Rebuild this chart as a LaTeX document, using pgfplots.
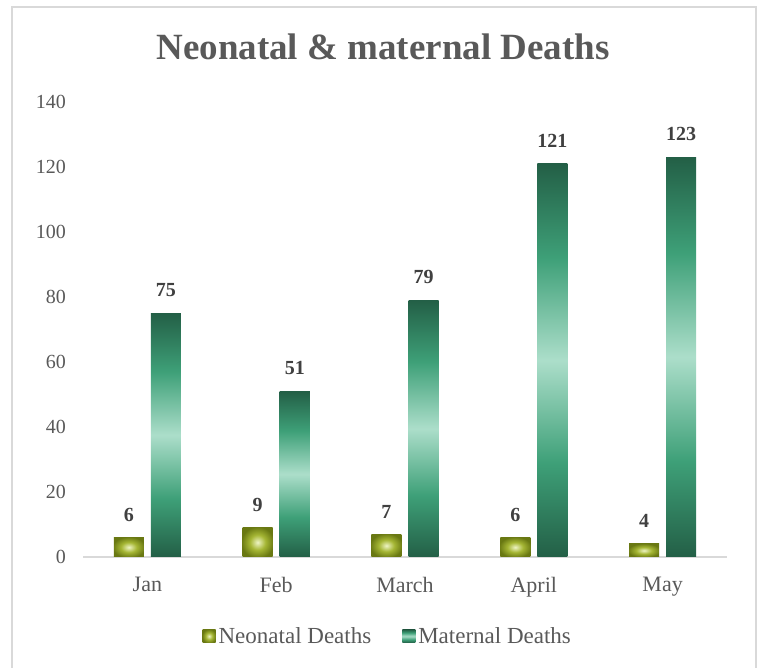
\documentclass[border=0pt]{standalone}
\usepackage{pgfplots}
\pgfplotsset{compat=1.18}
\usepackage{fontspec}
\setmainfont{Liberation Serif}

\definecolor{txtgray}{HTML}{595959}
\definecolor{lblgray}{HTML}{404040}
\definecolor{framegray}{HTML}{D9D9D9}
\definecolor{neodark}{RGB}{105,120,18}
\definecolor{neomid}{RGB}{165,182,52}
\definecolor{neolight}{RGB}{238,244,196}
\definecolor{matdark}{RGB}{35,95,70}
\definecolor{matmid}{RGB}{62,160,120}
\definecolor{matlight}{RGB}{172,222,202}

% olive bars: light centre, dark rim
\pgfdeclareradialshading{neoshade}{\pgfpoint{0bp}{0bp}}{%
  color(0bp)=(neolight); color(13bp)=(neomid); color(27bp)=(neodark); color(50bp)=(neodark)}
% green bars: dark at both ends, light in the middle
\pgfdeclareverticalshading{matshade}{100bp}{%
  color(0bp)=(matdark); color(25bp)=(matdark); color(37bp)=(matmid);
  color(50bp)=(matlight); color(63bp)=(matmid); color(75bp)=(matdark); color(100bp)=(matdark)}

% one \addplot per bar, so that every bar gets its own shading
\pgfplotsset{
  neo/.style = {draw=none, shading=neoshade, bar shift=-0.144},
  mat/.style = {draw=none, shading=matshade, bar shift=0.144},
}

\begin{document}
\begin{tikzpicture}
  \path[use as bounding box] (0pt,0pt) rectangle (762pt,668pt);
  \draw[framegray, line width=2pt] (12pt,0pt) -- (12pt,661pt) -- (756pt,661pt) -- (756pt,0pt);

  \node[font=\fontsize{37}{42}\selectfont\bfseries, text=txtgray] at (383pt,621pt) {Neonatal \& maternal Deaths};

  \begin{axis}[
      at               = {(83pt,111pt)},
      anchor           = south west,
      scale only axis,
      width            = 644pt,
      height           = 455pt,
      ybar,
      bar width        = 0.233,
      xmin = -0.5, xmax = 4.5,
      ymin = 0,    ymax = 140,
      xtick            = {0,1,2,3,4},
      xticklabels      = {Jan, Feb, March, April, May},
      ytick            = {0,20,...,140},
      axis x line*     = bottom,
      axis y line*     = left,
      x axis line style= {-, framegray, line width=1.5pt},
      y axis line style= {draw=none},
      major tick length= 0pt,
      /pgf/number format/assume math mode = true,
      tick label style = {text=txtgray, inner sep=0pt},
      xticklabel style = {font=\fontsize{22}{26}\selectfont, yshift=-20pt},
      yticklabel style = {font=\fontsize{20}{24}\selectfont, xshift=-17pt},
      nodes near coords,
      nodes near coords style = {font=\fontsize{20}{24}\selectfont\bfseries, text=lblgray,
                                 anchor=south, inner sep=0pt, yshift=16pt},
      legend columns   = 2,
      legend style     = {draw=none, fill=none, at={(0.474,-0.174)}, anchor=center,
                          font=\fontsize{23}{26}\selectfont, text=txtgray,
                          nodes={inner sep=3pt},
                          /tikz/every even column/.append style={column sep=28pt}},
      legend image code/.code = {\path[#1, draw=none] (0pt,-6.5pt) rectangle (13pt,6.5pt);},
    ]
    \addplot[neo, forget plot] coordinates {(0,6)};
    \addplot[neo, forget plot] coordinates {(1,9)};
    \addplot[neo, forget plot] coordinates {(2,7)};
    \addplot[neo, forget plot] coordinates {(3,6)};
    \addplot[neo, forget plot] coordinates {(4,4)};

    \addplot[mat, forget plot] coordinates {(0,75)};
    \addplot[mat, forget plot] coordinates {(1,51)};
    \addplot[mat, forget plot] coordinates {(2,79)};
    \addplot[mat, forget plot] coordinates {(3,121)};
    \addplot[mat, forget plot] coordinates {(4,123)};

    \addlegendimage{neo}
    \addlegendentry{Neonatal Deaths}
    \addlegendimage{mat}
    \addlegendentry{Maternal Deaths}
  \end{axis}
\end{tikzpicture}
\end{document}
